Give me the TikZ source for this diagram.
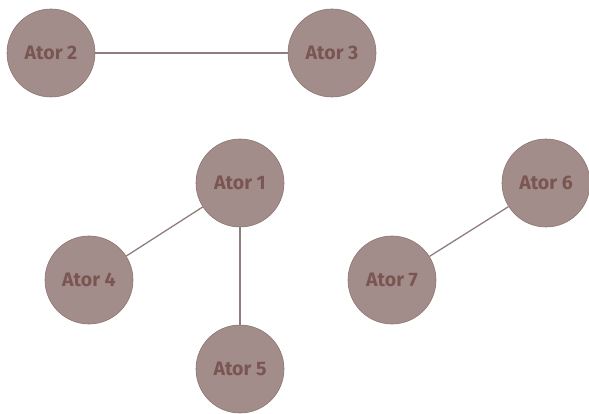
\documentclass[tikz,border=0pt]{standalone}
\usepackage{fontspec}
\setmainfont{Fira Sans}
\definecolor{actfill}{HTML}{A38D8B}
\definecolor{actdraw}{HTML}{8C7472}
\definecolor{acttext}{HTML}{7A5652}
\definecolor{linkcol}{HTML}{8E7E7D}
\begin{document}
\begin{tikzpicture}[x=1pt,y=-1pt,
  actor/.style={circle,minimum size=88pt,inner sep=0pt,fill=actfill,draw=actdraw,line width=0.6pt,
    text=acttext,font=\fontsize{19.5}{22}\selectfont\bfseries},
  link/.style={draw=linkcol,line width=1.3pt}]
\useasboundingbox (0,0) rectangle (589,414);
\node[actor] (a2) at (51,53) {Ator 2};
\node[actor] (a3) at (332,53) {Ator 3};
\node[actor] (a1) at (240,183) {Ator 1};
\node[actor] (a4) at (89,280) {Ator 4};
\node[actor] (a5) at (240,369) {Ator 5};
\node[actor] (a6) at (546,183) {Ator 6};
\node[actor] (a7) at (392,280) {Ator 7};
\draw[link] (a2) -- (a3);
\draw[link] (a1) -- (a4);
\draw[link] (a1) -- (a5);
\draw[link] (a7) -- (a6);
\end{tikzpicture}
\end{document}
